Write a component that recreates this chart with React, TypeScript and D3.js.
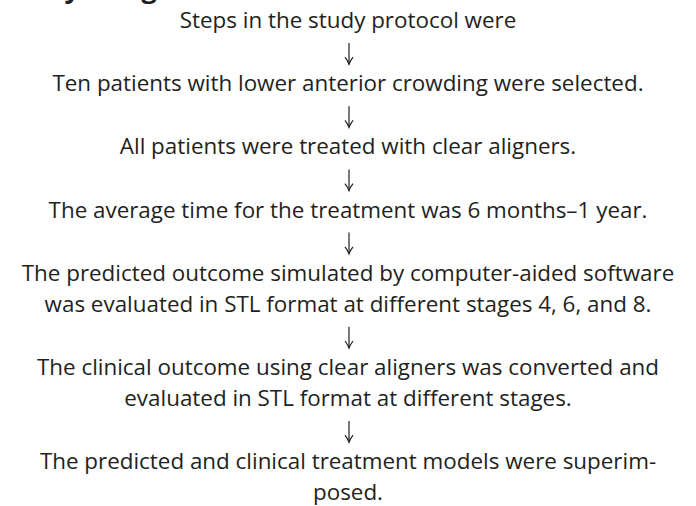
import React, { useEffect, useRef } from "react";
import * as d3 from "d3";

const width = 696;
const height = 506;

// partially cropped heading at the very top of the figure
const headingText = "Study design";

// each step of the protocol, split into the printed lines
const stepLines: string[][] = [
  ["Steps in the study protocol were"],
  ["Ten patients with lower anterior crowding were selected."],
  ["All patients were treated with clear aligners."],
  ["The average time for the treatment was 6 months–1 year."],
  [
    "The predicted outcome simulated by computer-aided software",
    "was evaluated in STL format at different stages 4, 6, and 8.",
  ],
  [
    "The clinical outcome using clear aligners was converted and",
    "evaluated in STL format at different stages.",
  ],
  ["The predicted and clinical treatment models were superim-", "posed."],
];

const App = () => {
  const svgRef = useRef<SVGSVGElement>(null);

  useEffect(() => {
    const svg = d3.select(svgRef.current);
    svg.selectAll("*").remove();

    const ink = "#231f20";
    const lineGap = 31; // baseline to baseline inside a step
    const stepGap = 63.2; // last baseline of a step to first of the next
    const cx = width / 2;

    // baselines for every line, and arrow spans between steps
    const rows: { text: string; y: number }[] = [];
    const arrows: { y0: number; y1: number }[] = [];
    let y = 28;
    stepLines.forEach((lines, i) => {
      lines.forEach((t, j) => {
        if (j > 0) y += lineGap;
        rows.push({ text: t, y });
      });
      if (i < stepLines.length - 1) {
        arrows.push({ y0: y + 15, y1: y + stepGap - 27 });
        y += stepGap;
      }
    });

    svg
      .append("text")
      .attr("x", 3)
      .attr("y", -2)
      .style("font-family", "'Open Sans', sans-serif")
      .style("font-weight", "bold")
      .style("font-size", "27px")
      .attr("fill", ink)
      .text(headingText);

    svg
      .selectAll(".step-line")
      .data(rows)
      .enter()
      .append("text")
      .attr("class", "step-line")
      .attr("x", cx)
      .attr("y", (d) => d.y)
      .attr("text-anchor", "middle")
      .style("font-family", "'Open Sans', sans-serif")
      .style("font-size", "22.4px")
      .attr("fill", ink)
      .text((d) => d.text);

    // down arrows between steps
    const arrowG = svg
      .selectAll(".arrow")
      .data(arrows)
      .enter()
      .append("g")
      .attr("class", "arrow")
      .attr("fill", "none")
      .attr("stroke", ink)
      .attr("stroke-width", 1.2);

    arrowG
      .append("line")
      .attr("x1", cx + 1)
      .attr("x2", cx + 1)
      .attr("y1", (d) => d.y0)
      .attr("y2", (d) => d.y1);

    arrowG
      .append("path")
      .attr("d", (d) => `M${cx - 3},${d.y1 - 7} Q${cx},${d.y1 - 3} ${cx + 1},${d.y1} Q${cx + 2},${d.y1 - 3} ${cx + 5},${d.y1 - 7}`);
  }, []);

  return (
    <svg
      ref={svgRef}
      width={width}
      height={height}
      viewBox={`0 0 ${width} ${height}`}
      style={{ position: "absolute", left: 0, top: 0, background: "#fff" }}
    />
  );
};

export default App;
